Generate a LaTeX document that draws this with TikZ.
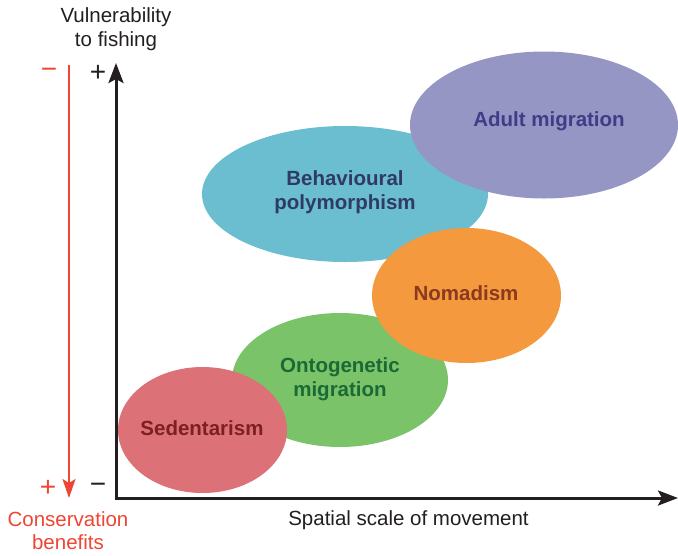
\documentclass[tikz,border=0pt]{standalone}
\usepackage{fontspec}
\setmainfont{Liberation Sans}
\usetikzlibrary{arrows.meta,shapes.geometric}
\definecolor{adultfill}{HTML}{9696C4}
\definecolor{adulttext}{HTML}{403C88}
\definecolor{behfill}{HTML}{6BBDD0}
\definecolor{behtext}{HTML}{2F3B66}
\definecolor{nomfill}{HTML}{F5993E}
\definecolor{nomtext}{HTML}{8A3A1E}
\definecolor{ontfill}{HTML}{7AC369}
\definecolor{onttext}{HTML}{1B6A36}
\definecolor{sedfill}{HTML}{DC7277}
\definecolor{sedtext}{HTML}{7D1F24}
\definecolor{consred}{HTML}{EE4535}
\definecolor{axisblack}{HTML}{231F20}
\tikzset{
  blob/.style={ellipse, draw=none, inner sep=0pt},
  blobtext/.style={font=\fontsize{20.5}{24}\selectfont\bfseries, align=center},
  label/.style={font=\fontsize{20.5}{24}\selectfont, align=center, text=axisblack},
  redlabel/.style={font=\fontsize{20.5}{23}\selectfont, align=center, text=consred},
  signtext/.style={font=\fontsize{28}{28}\selectfont, inner sep=0pt},
  axisline/.style={draw=axisblack, line width=3pt,
    -{Stealth[length=20pt,width=15pt,inset=4pt]}},
  redline/.style={draw=consred, line width=2.2pt,
    -{Stealth[length=19pt,width=13pt,inset=4pt]}},
}
\begin{document}
\begin{tikzpicture}[x=1pt,y=-1pt]
\useasboundingbox (0,0) rectangle (678,555);

% ellipses, back to front
\node[blob, fill=behfill, minimum width=286pt, minimum height=136pt] (beh) at (345,194) {};
\node[blob, fill=adultfill, minimum width=268pt, minimum height=147pt] (adult) at (544,125) {};
\node[blob, fill=ontfill, minimum width=216pt, minimum height=134pt] (ont) at (340,380) {};
\node[blob, fill=nomfill, minimum width=189pt, minimum height=135pt] (nom) at (466.5,295.5) {};
\node[blob, fill=sedfill, minimum width=169pt, minimum height=126pt] (sed) at (202.5,430) {};

% ellipse labels
\node[blobtext, text=behtext] (behlbl) at (345,192) {Behavioural\\polymorphism};
\node[blobtext, text=adulttext] (adultlbl) at (549,121) {Adult migration};
\node[blobtext, text=onttext] (ontlbl) at (340,379) {Ontogenetic\\migration};
\node[blobtext, text=nomtext] (nomlbl) at (466,293) {Nomadism};
\node[blobtext, text=sedtext] (sedlbl) at (202,428) {Sedentarism};

% axes
\coordinate (origin) at (116,498);
\coordinate (ytop) at (116,63);
\coordinate (xend) at (678,498);
\draw[axisline] ([yshift=1.5pt]origin) -- (ytop);
\draw[axisline] ([xshift=-1.5pt]origin) -- (xend);

% conservation benefits arrow
\coordinate (rtop) at (69,65);
\coordinate (rbot) at (69,498);
\draw[redline] (rtop) -- (rbot);

% axis signs
\node[signtext, text=axisblack] (yplus) at (98,73) {+};
\node[signtext, text=axisblack] (yminus) at (98,488) {\textminus};
\node[signtext, text=consred] (rminus) at (49,73) {\textminus};
\node[signtext, text=consred] (rplus) at (48,488) {+};

% axis titles
\node[label] (ytitle) at (116,29) {Vulnerability\\to fishing};
\node[label] (xtitle) at (408.5,520) {Spatial scale of movement};
\node[redlabel] (rtitle) at (68,531) {Conservation\\benefits};
\end{tikzpicture}
\end{document}
